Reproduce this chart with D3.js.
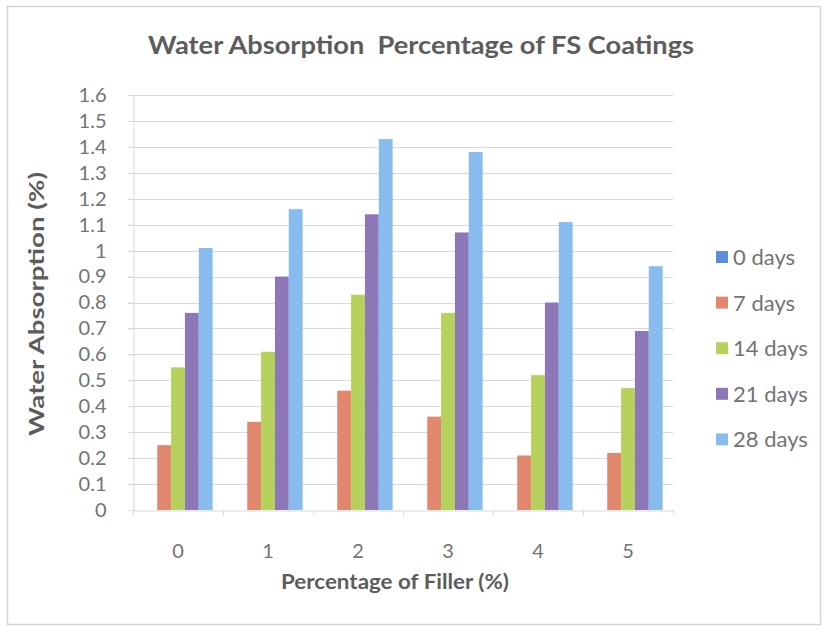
<!DOCTYPE html>
<html>
<head>
<meta charset="utf-8">
<script src="https://cdn.jsdelivr.net/npm/d3@7"></script>
<style>
  html, body { margin: 0; padding: 0; background: #fff; }
  svg { display: block; font-family: Lato, "Open Sans", sans-serif; }
</style>
</head>
<body>
<svg id="chart" width="827" height="628"></svg>
<script>
const categories = ["0", "1", "2", "3", "4", "5"];
const seriesNames = ["0 days", "7 days", "14 days", "21 days", "28 days"];
const days0  = [0, 0, 0, 0, 0, 0];
const days7  = [0.25, 0.34, 0.46, 0.36, 0.21, 0.22];
const days14 = [0.55, 0.61, 0.83, 0.76, 0.52, 0.47];
const days21 = [0.76, 0.90, 1.14, 1.07, 0.80, 0.69];
const days28 = [1.01, 1.16, 1.43, 1.38, 1.11, 0.94];
const seriesValues = [days0, days7, days14, days21, days28];
const seriesColors = ["#5b8fd9", "#e1876e", "#b7d25c", "#8d77b7", "#88bbee"];
const yTicks = [0, 0.1, 0.2, 0.3, 0.4, 0.5, 0.6, 0.7, 0.8, 0.9, 1, 1.1, 1.2, 1.3, 1.4, 1.5, 1.6];

const svg = d3.select("#chart");
const textGray = "#737373";
const titleGray = "#5c5c5c";

// outer border
svg.append("rect")
  .attr("x", 7.5).attr("y", 6.5).attr("width", 813).attr("height", 618)
  .attr("fill", "#fff").attr("stroke", "#d4d4d4").attr("stroke-width", 1.5);

const plotLeft = 133, plotRight = 673, plotTop = 95, plotBottom = 510;

const x = d3.scaleBand().domain(categories).range([plotLeft, plotRight]).paddingInner(0).paddingOuter(0);
const xs = d3.scaleBand().domain(seriesNames).range([0, x.bandwidth()]).paddingInner(0).paddingOuter(0.75);
const y = d3.scaleLinear().domain([0, 1.6]).range([plotBottom, plotTop]);

// gridlines
svg.append("g").selectAll("line").data(yTicks.filter(d => d > 0)).join("line")
  .attr("x1", plotLeft - 5).attr("x2", plotRight)
  .attr("y1", d => Math.round(y(d)) + 0.5).attr("y2", d => Math.round(y(d)) + 0.5)
  .attr("stroke", "#d9d9d9").attr("stroke-width", 1);

// y axis
const yAxis = d3.axisLeft(y).tickValues(yTicks).tickSize(5).tickPadding(22).tickFormat(d => d3.format("~g")(d));
const gy = svg.append("g").attr("transform", `translate(${plotLeft + 0.5},0)`).call(yAxis);
gy.select(".domain").attr("stroke", "#d9d9d9");
gy.selectAll(".tick line").attr("stroke", "#d9d9d9");
gy.selectAll(".tick text")
  .attr("fill", textGray).style("font-size", "20px").style("font-family", "Lato, sans-serif");

// bars
const groups = svg.append("g").selectAll("g").data(categories).join("g")
  .attr("transform", d => `translate(${x(d)},0)`);
groups.selectAll("rect")
  .data((c, ci) => seriesNames.map((s, si) => ({ s, si, v: seriesValues[si][ci] })))
  .join("rect")
  .attr("x", d => xs(d.s))
  .attr("width", xs.bandwidth())
  .attr("y", d => y(d.v))
  .attr("height", d => y(0) - y(d.v))
  .attr("fill", d => seriesColors[d.si]);

// x axis
const xAxis = d3.axisBottom(x).tickSize(0);
const gx = svg.append("g").attr("transform", `translate(0,${plotBottom + 0.5})`).call(xAxis);
gx.select(".domain").attr("stroke", "#d9d9d9");
gx.selectAll(".tick text").attr("dy", "0").attr("y", 47)
  .attr("fill", textGray).style("font-size", "20px").style("font-family", "Lato, sans-serif");
// category boundary ticks
svg.append("g").selectAll("line").data(categories.map((c, i) => i).concat([categories.length])).join("line")
  .attr("x1", i => Math.round(plotLeft + i * x.step()) + 0.5)
  .attr("x2", i => Math.round(plotLeft + i * x.step()) + 0.5)
  .attr("y1", plotBottom).attr("y2", plotBottom + 5)
  .attr("stroke", "#d9d9d9");

// title
svg.append("text").attr("x", 421).attr("y", 54).attr("text-anchor", "middle")
  .attr("fill", titleGray).style("font-size", "24px").style("font-weight", "bold")
  .style("font-family", "Lato, sans-serif").style("white-space", "pre")
  .attr("textLength", 546).attr("lengthAdjust", "spacingAndGlyphs")
  .text("Water Absorption  Percentage of FS Coatings");

// y axis title
svg.append("text").attr("transform", "translate(44,304) rotate(-90)")
  .attr("text-anchor", "middle").attr("fill", titleGray)
  .style("font-size", "21px").style("font-weight", "bold").style("font-family", "Lato, sans-serif")
  .attr("textLength", 264).attr("lengthAdjust", "spacingAndGlyphs")
  .text("Water Absorption (%)");

// x axis title
svg.append("text").attr("x", 395).attr("y", 589).attr("text-anchor", "middle")
  .attr("fill", titleGray).style("font-size", "21px").style("font-weight", "bold")
  .style("font-family", "Lato, sans-serif")
  .attr("textLength", 228).attr("lengthAdjust", "spacingAndGlyphs")
  .text("Percentage of Filler (%)");

// legend
const legend = svg.append("g").selectAll("g").data(seriesNames).join("g")
  .attr("transform", (d, i) => `translate(716,${257 + i * 45.6})`);
legend.append("rect").attr("x", 0).attr("y", -6).attr("width", 12).attr("height", 12)
  .attr("fill", (d, i) => seriesColors[i]);
legend.append("text").attr("x", 17).attr("y", 8).attr("fill", textGray)
  .style("font-size", "22px").style("font-family", "Lato, sans-serif")
  .text(d => d);
</script>
</body>
</html>
